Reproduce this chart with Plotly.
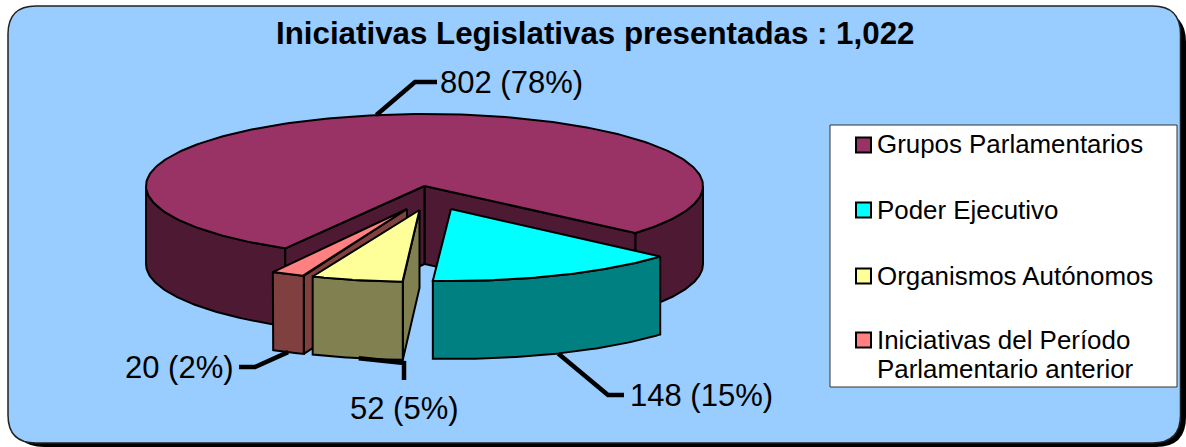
import numpy as np
import plotly.graph_objects as go

# ---- data ----
title_text = "Iniciativas Legislativas presentadas : 1,022"
categories = ["Grupos Parlamentarios", "Poder Ejecutivo", "Organismos Autónomos",
              "Iniciativas del Período<br>Parlamentario anterior"]
values = [802, 148, 52, 20]
percent_labels = [78, 15, 5, 2]

# ---- styles / layout ----
W, H = 1186, 447
FONT = "Liberation Sans"
top_colors = ["#993366", "#00FFFF", "#FFFF99", "#FF8080"]
side_colors = ["#4D1933", "#008080", "#808050", "#804040"]
BG = "#99CCFF"
CX, CY, RX, RY, DEPTH = 424.5, 186.0, 278.5, 72.0, 78.0
START = 118.8                      # clockwise from east, degrees
edge_trim = [(1.2, -0.5), (0, 0.3), (0, 0.8), (0, 0)]   # small perspective correction of slice edges
explode = [(0, 0), (26.5, 23), (-5, 24), (-17.5, 23)]
draw_order = [0, 1, 3, 2]
elbows = [[(415, 82), (437, 82)], [(608, 395), (624, 395)],
          [(404, 363), (404, 380)], [(255, 367), (239, 367)]]
label_pos = [(438, 82, "left"), (628, 395, "left"), (404, 408, "center"), (236, 367, "right")]
legend_rows = [145, 210, 276, 340]
legend_line_y = [[144], [210], [276], [340, 369]]

total = sum(values)
spans = [v / total * 360 for v in values]
starts = [START + sum(spans[:i]) for i in range(len(values))]


def arc(a0, a1, ox=0, oy=0, dz=0, n=80):
    t = np.radians(np.linspace(a0, a1, n))
    return CX + ox + RX * np.cos(t), CY + oy + dz + RY * np.sin(t)


def poly(fig, xs, ys, color, width=2):
    fig.add_trace(go.Scatter(x=np.r_[xs, xs[0]], y=np.r_[ys, ys[0]], mode="lines", fill="toself",
                             fillcolor=color, line=dict(color="black", width=width),
                             hoverinfo="skip", showlegend=False))


def wall(fig, a0, a1, ox, oy, color):
    x0, y0 = arc(a0, a1, ox, oy)
    x1, y1 = arc(a1, a0, ox, oy, DEPTH)
    poly(fig, np.r_[x0, x1], np.r_[y0, y1], color)


def radial(fig, a, ox, oy, color):
    xr, yr = arc(a, a, ox, oy, n=1)
    ax, ay = CX + ox, CY + oy
    poly(fig, np.r_[ax, xr, xr, ax], np.r_[ay, yr, yr + DEPTH, ay + DEPTH], color)


def rounded(x0, y0, x1, y1, r):
    return (f"M{x0+r},{y0} L{x1-r},{y0} Q{x1},{y0} {x1},{y0+r} L{x1},{y1-r} Q{x1},{y1} {x1-r},{y1} "
            f"L{x0+r},{y1} Q{x0},{y1} {x0},{y1-r} L{x0},{y0+r} Q{x0},{y0} {x0+r},{y0} Z")


fig = go.Figure()

for i in draw_order:
    a0 = starts[i] + edge_trim[i][0]
    a1 = starts[i] + spans[i] + edge_trim[i][1]
    ox, oy = explode[i]
    side, top = side_colors[i], top_colors[i]
    if i == 0:
        # large slice: two visible wall pieces plus both cut faces
        wall(fig, a0, 180, ox, oy, side)
        wall(fig, 360, a1, ox, oy, side)
        radial(fig, a1, ox, oy, side)
        radial(fig, a0, ox, oy, side)
    else:
        if i != 1:
            radial(fig, a0, ox, oy, side)
        wall(fig, a0, a1, ox, oy, side)
    xs, ys = arc(a0, a1, ox, oy, n=240)
    poly(fig, np.r_[CX + ox, xs], np.r_[CY + oy, ys], top)

# leader lines: they start on the rim at each slice's middle angle
for i in range(len(values)):
    mid = starts[i] + spans[i] / 2
    ox, oy = explode[i]
    xm, ym = arc(mid, mid, ox, oy, n=1)
    front = np.sin(np.radians(mid)) > 0
    px = [xm[0]] + [p[0] for p in elbows[i]]
    py = [ym[0] + (DEPTH if front else 0)] + [p[1] for p in elbows[i]]
    fig.add_trace(go.Scatter(x=px, y=py, mode="lines", line=dict(color="black", width=4.5),
                             hoverinfo="skip", showlegend=False))
    lx, ly, anchor = label_pos[i]
    fig.add_annotation(x=lx, y=ly, text=f"{values[i]} ({percent_labels[i]}%)", showarrow=False,
                       xanchor=anchor, yanchor="middle",
                       font=dict(family=FONT, size=31, color="black"))

# legend swatches
fig.add_trace(go.Scatter(x=[863.5] * 4, y=legend_rows, mode="markers",
                         marker=dict(symbol="square", size=15, color=top_colors,
                                     line=dict(color="black", width=2)),
                         hoverinfo="skip", showlegend=False))
for name, ys in zip(categories, legend_line_y):
    for line, y in zip(name.split("<br>"), ys):
        fig.add_annotation(x=875, y=y, text=line, showarrow=False, xanchor="left", yanchor="middle",
                           align="left", font=dict(family=FONT, size=25.9, color="black"))

fig.add_annotation(x=594.5, y=33, text=f"<b>{title_text}</b>", showarrow=False,
                   xanchor="center", yanchor="middle", font=dict(family=FONT, size=31.3, color="black"))

fig.update_layout(
    width=W, height=H, margin=dict(l=0, r=0, t=0, b=0, pad=0),
    paper_bgcolor="white", plot_bgcolor="rgba(0,0,0,0)", showlegend=False,
    xaxis=dict(range=[0, W], visible=False, fixedrange=True),
    yaxis=dict(range=[H, 0], visible=False, fixedrange=True),
    shapes=[
        dict(type="path", path=rounded(14, 12, 1186, 447, 30), fillcolor="black",
             line=dict(width=0), layer="below"),
        dict(type="path", path=rounded(8, 6, 1180.5, 443, 28), fillcolor=BG,
             line=dict(color="#222222", width=1.5), layer="below"),
        dict(type="rect", x0=830, y0=125, x1=1177, y1=387, fillcolor="white",
             line=dict(color="#333333", width=1), layer="below"),
    ],
)

fig.write_html("out.html", post_script="document.body.style.margin='0';document.body.style.overflow='hidden';",
               config={"displayModeBar": False})
